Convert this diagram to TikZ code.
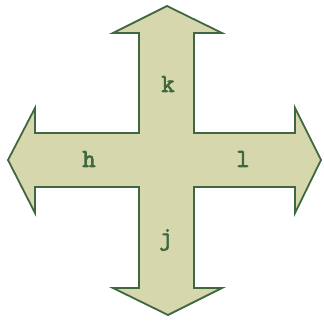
\documentclass[tikz,border=0pt]{standalone}
\usepackage{fontspec}
\newfontfamily\kmono{Latin Modern Mono}[FakeBold=2.5]
\usepackage{tikz}
\definecolor{kusa}{RGB}{214,215,172}
\definecolor{fuchi}{RGB}{62,104,64}
\tikzset{moji/.style={text=fuchi, font=\kmono\fontsize{26}{28}\selectfont}}

\begin{document}
\begin{tikzpicture}[x=1pt, y=-1pt]

        \useasboundingbox (0,0) rectangle (323,323); %画像の大きさ
        %十字の矢印
        \draw[fill=kusa, draw=fuchi, line width=1.8pt, line join=miter]
            (139,133)--(139,33)--(113,33)--(167,6)--(222,33)--(194,33)--(194,133)
            --(295,133)--(295,108)--(321,160)--(295,213)--(295,187)--(194,187)
            --(194,288)--(222,288)--(168,315)--(113,288)--(139,288)--(139,187)
            --(35,187)--(35,213)--(8,160)--(35,108)--(35,133)--cycle;

        %文字
        \node[moji] (k) at (168,84) {k};
        \node[moji] (h) at (89,159) {h};
        \node[moji] (l) at (243,159) {l};
        \node[moji] (j) at (166,240) {j};
    \end{tikzpicture}
\end{document}
